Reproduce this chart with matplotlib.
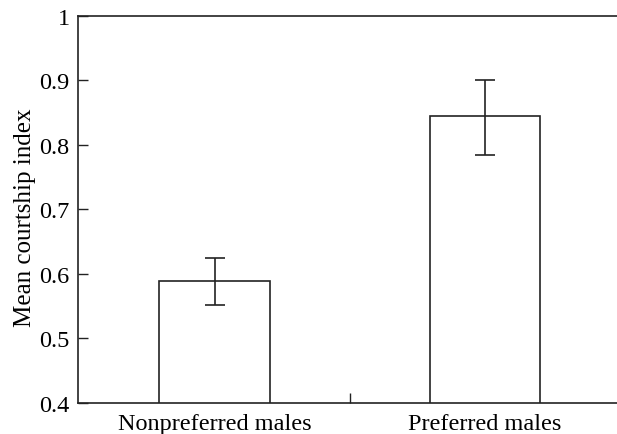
import matplotlib
matplotlib.use("Agg")
import matplotlib.pyplot as plt
from matplotlib.ticker import FixedLocator

# values
groups = ["Nonpreferred males", "Preferred males"]
means = [0.589, 0.844]
err_low = [0.552, 0.784]
err_high = [0.625, 0.900]
yticks = [0.4, 0.5, 0.6, 0.7, 0.8, 0.9, 1.0]
ytick_labels = ["0.4", "0.5", "0.6", "0.7", "0.8", "0.9", "1"]

plt.rcParams['font.family'] = ['Liberation Serif', 'DejaVu Serif']
ink = "#222222"
fs = 17.5

fig = plt.figure(figsize=(6.17, 4.35), dpi=100)
ax = fig.add_axes([78 / 617, 31 / 435, 1 - 78 / 617, 387.5 / 435])

x = list(range(len(groups)))
yerr = [[m - lo for m, lo in zip(means, err_low)],
        [hi - m for m, hi in zip(means, err_high)]]
ax.bar(x, means, width=0.41, bottom=0, color="white", edgecolor=ink, linewidth=1.2, zorder=2)
ax.errorbar(x, means, yerr=yerr, fmt="none", ecolor=ink, elinewidth=1.2,
            capsize=7, capthick=1.2, zorder=3)

ax.set_ylim(0.4, 1.0)
ax.set_xlim(-0.505, 1.488)
ax.set_yticks(yticks)
ax.set_yticklabels(ytick_labels)
ax.set_xticks(x)
ax.set_xticklabels(groups)
ax.xaxis.set_minor_locator(FixedLocator([0.5]))

ax.tick_params(axis="y", direction="in", length=7, width=1, colors=ink,
               labelsize=fs, pad=6, labelcolor="black")
ax.tick_params(axis="x", which="major", length=0, labelsize=fs, pad=7, labelcolor="black")
ax.tick_params(axis="x", which="minor", direction="in", length=7, width=1, colors=ink)

ax.set_ylabel("Mean courtship index", fontsize=18)
ax.yaxis.set_label_coords(-0.078, 0.48)

ax.spines["right"].set_visible(False)
for s in ["left", "top", "bottom"]:
    ax.spines[s].set_color(ink)
    ax.spines[s].set_linewidth(1.2)

fig.savefig("out.png", dpi=100)
